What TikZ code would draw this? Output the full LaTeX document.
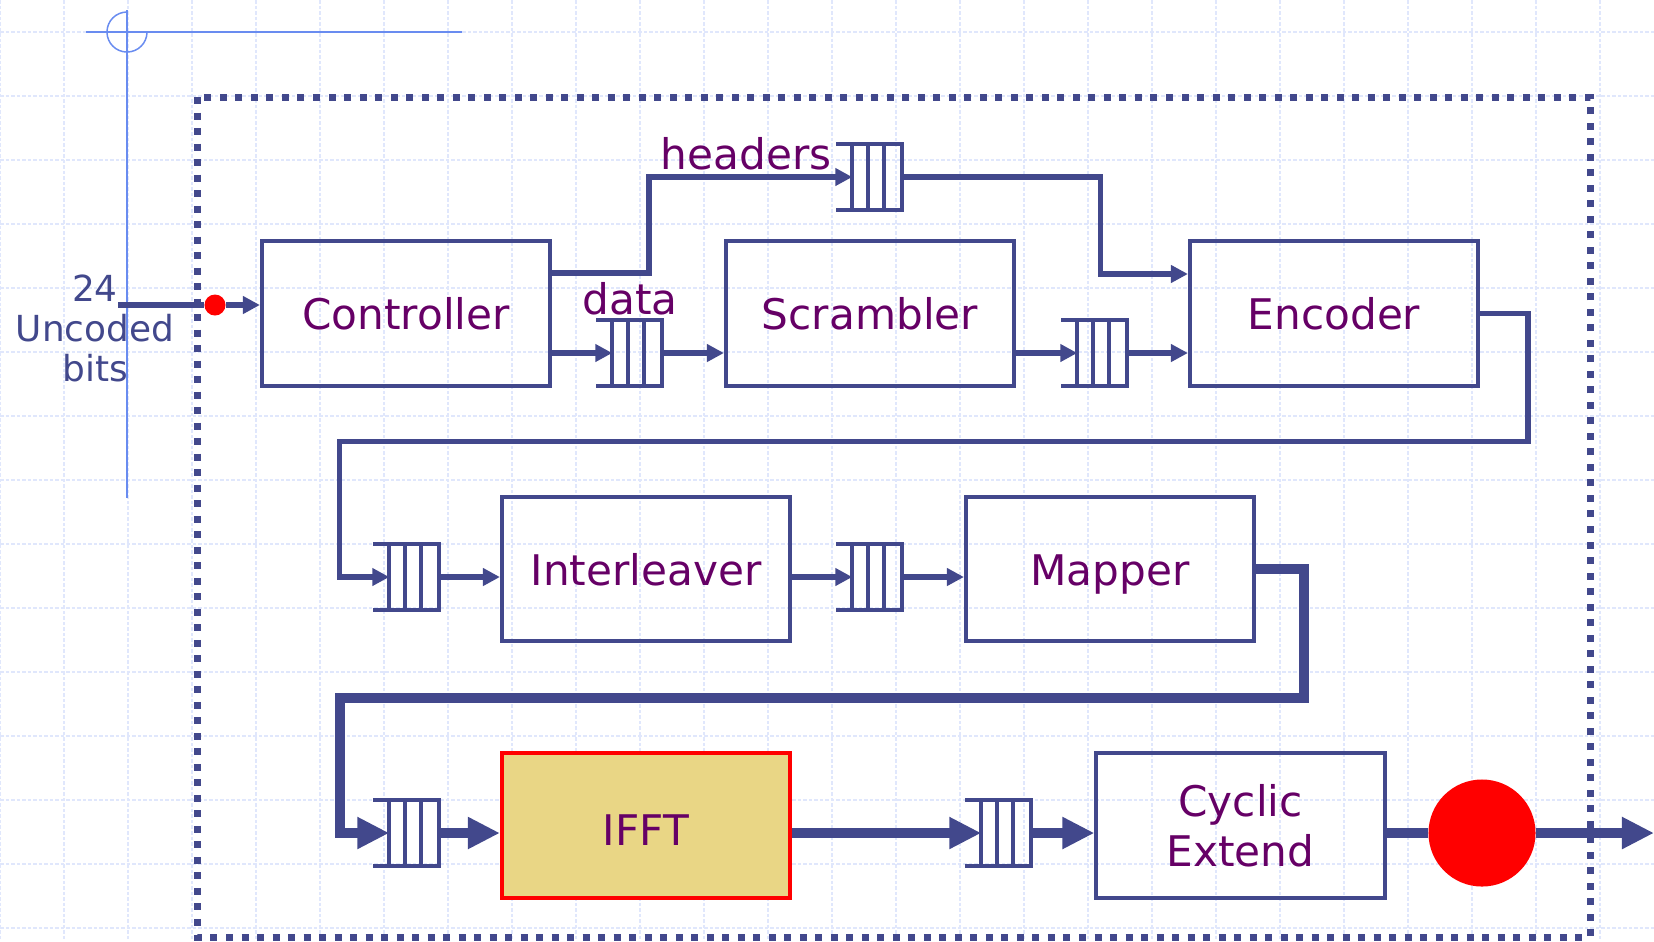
\documentclass[tikz,border=0pt]{standalone}
\usepackage{fontspec}
\setmainfont{DejaVu Sans}
\usetikzlibrary{arrows.meta}

\definecolor{linecol}{RGB}{66,72,140}
\definecolor{labelcol}{RGB}{102,0,102}
\definecolor{fftfill}{RGB}{233,214,133}
\definecolor{guidecol}{RGB}{105,140,240}
\definecolor{gridcol}{RGB}{224,231,252}

\newcommand\boxfont{\fontsize{12}{14.2}\selectfont}
\newcommand\sidefont{\fontsize{10.2}{11.4}\selectfont}

\tikzset{
  unit/.style={draw=linecol, line width=0.4mm, minimum width=28.8mm, minimum height=14.4mm,
    inner sep=0pt, text=labelcol, font=\boxfont, align=center},
  stage/.style={unit, text height=3.2mm, text depth=0pt},
  buffer/.style={minimum width=4.8mm, minimum height=6.4mm, inner sep=0pt},
  bufline/.style={draw=linecol, line width=0.37mm},
  conn/.style={draw=linecol, line width=0.55mm, -{Triangle[length=1.7mm,width=1.7mm]}},
  bus/.style={draw=linecol, line width=1mm, -{Triangle[length=3.2mm,width=3mm]}},
  tag/.style={text=labelcol, font=\boxfont, inner sep=0pt},
  sidetext/.style={text=linecol, font=\sidefont, align=center, inner sep=0pt},
  tap/.style={circle, fill=red, inner sep=0pt, minimum size=2.1mm},
  probe/.style={circle, fill=red, inner sep=0pt, minimum size=10.7mm},
  frame/.style={draw=linecol, line width=0.7mm, dash pattern=on 0.7mm off 0.85mm},
  guide/.style={draw=guidecol, line width=0.15mm},
  gridline/.style={draw=gridcol, line width=0.18mm, dash pattern=on 0.35mm off 0.2mm}
}

\begin{document}
\begin{tikzpicture}[x=0.01cm, y=-0.01cm]
\useasboundingbox (0,0) rectangle (1654,941);

% background grid
\foreach \x in {0,64,...,1600}
  \draw[gridline] (\x,0) -- (\x,941);
\foreach \y in {32,96,...,928}
  \draw[gridline] (0,\y) -- (1654,\y);

% crosshair
\draw[guide] (86,32) -- (462,32);
\draw[guide] (127,10) -- (127,498);
\draw[guide] (127,12) arc[start angle=90, end angle=360, radius=2mm];

% dotted boundary
\draw[frame] (197.5,97) rectangle (1590,937);

% blocks
\node[stage] (ctrl) at (406,313.5) {Controller};
\node[stage] (scr) at (870,313.5) {Scrambler};
\node[stage] (enc) at (1334,313.5) {Encoder};
\node[stage] (intl) at (646,569) {Interleaver};
\node[stage] (map) at (1110,569) {Mapper};
\node[stage, draw=red, fill=fftfill, text height=3.9mm] (ifft) at (646,825.5) {IFFT};
\node[unit] (cyc) at (1240.5,825.5) {Cyclic\\Extend};

% buffers
\node[buffer] (qhead) at (877,177) {};
\node[buffer] (qdata) at (637,353) {};
\node[buffer] (qscr) at (1102,353) {};
\node[buffer] (qint) at (414,577) {};
\node[buffer] (qmap) at (877,577) {};
\node[buffer] (qifft) at (414,833) {};
\node[buffer] (qcyc) at (1006,833) {};

\foreach \q in {qhead,qdata,qscr,qint,qmap,qifft,qcyc}{
  \draw[bufline] ([xshift=-1.6mm]\q.north west) -- (\q.north east)
    -- (\q.south east) -- ([xshift=-1.6mm]\q.south west);
  \foreach \k in {0,1.6,3.2}
    \draw[bufline] ([xshift=\k mm]\q.north west) -- ([xshift=\k mm]\q.south west);
}

% input
\node[sidetext] (bits) at (95,328.7) {24\\Uncoded\\bits};
\coordinate (src) at (118,305);
\node[tap] (tp) at (215,305) {};
\draw[conn, -] (src) -- (tp);
\draw[conn] (tp) -- (tp -| ctrl.west);

% labels
\node[tag, anchor=base west] (hdrtag) at (660,169) {headers};
\node[tag, anchor=base west] (datatag) at (582,314) {data};

% first row
\draw[conn] ([yshift=4.05mm]ctrl.east) -- ++(97,0) |- (qhead.west);
\draw[conn] (ctrl.east |- qdata) -- (qdata.west);
\draw[conn] (qdata.east) -- (qdata.east -| scr.west);
\draw[conn] (qhead.east) -- ++(199,0) |- ([yshift=3.95mm]enc.west);
\draw[conn] (scr.east |- qscr) -- (qscr.west);
\draw[conn] (qscr.east) -- (qscr.east -| enc.west);

% second row
\draw[conn] (enc.east) -- ++(48,0) -- ++(0,128) -| ([xshift=-5mm]qint.west) -- (qint.west);
\draw[conn] (qint.east) -- (qint.east -| intl.west);
\draw[conn] (intl.east |- qmap) -- (qmap.west);
\draw[conn] (qmap.east) -- (qmap.east -| map.west);

% third row
\draw[bus] (map.east) -- ++(48,0) -- ++(0,128.5) -| ([xshift=-4.9mm]qifft.west) -- (qifft.west);
\draw[bus] (qifft.east) -- (qifft.east -| ifft.west);
\draw[bus] (ifft.east |- qcyc) -- (qcyc.west);
\draw[bus] (qcyc.east) -- (qcyc.east -| cyc.west);

% output
\node[probe] (pr) at (1482,833) {};
\coordinate (sink) at (1654,833);
\draw[bus, -] (cyc.east |- pr) -- (pr);
\draw[bus] (pr) -- (sink);
\end{tikzpicture}
\end{document}
